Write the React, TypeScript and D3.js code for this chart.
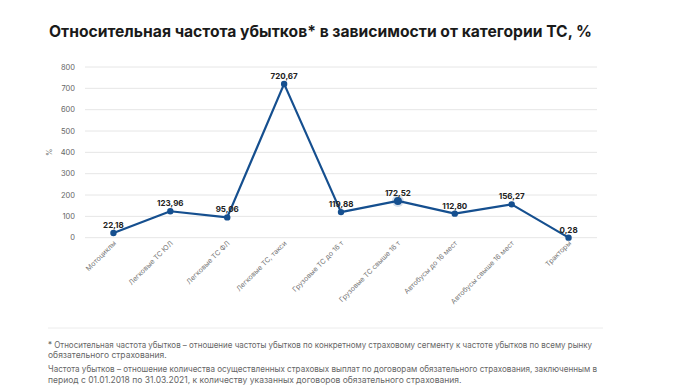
import React from "react";
import * as d3 from "d3";

const categories = [
  "Мотоциклы",
  "Легковые ТС ЮЛ",
  "Легковые ТС ФЛ",
  "Легковые ТС, такси",
  "Грузовые ТС до 16 т",
  "Грузовые ТС свыше 16 т",
  "Автобусы до 16 мест",
  "Автобусы свыше 16 мест",
  "Тракторы",
];
const values = [22.18, 123.96, 95.06, 720.67, 119.88, 172.52, 112.8, 156.27, 0.28];
const valueLabels = ["22,18", "123,96", "95,06", "720,67", "119,88", "172,52", "112,80", "156,27", "0,28"];
const yTicks = [0, 100, 200, 300, 400, 500, 600, 700, 800];
const highlightIndex = 5;

const title = "Относительная частота убытков* в зависимости от категории ТС, %";
const footnotes = [
  "* Относительная частота убытков – отношение частоты убытков по конкретному страховому сегменту к частоте убытков по всему рынку",
  "обязательного страхования.",
  "Частота убытков – отношение количества осуществленных страховых выплат по договорам обязательного страхования, заключенным в",
  "период с 01.01.2018 по 31.03.2021, к количеству указанных договоров обязательного страхования.",
];

export default function App() {
  const W = 700, H = 390;
  const left = 85, right = 597, top = 67, bottom = 237.7;
  const x = d3.scaleBand<string>().domain(categories).range([left, right]).padding(0);
  const y = d3.scaleLinear().domain([0, 800]).range([bottom, top]);
  const cx = (c: string) => (x(c) as number) + x.bandwidth() / 2;
  const color = "#154f8f";
  const line = d3
    .line<number>()
    .x((_, i) => cx(categories[i]))
    .y((v) => y(v));
  const font = "Inter, 'Noto Sans', sans-serif";
  const footY = [347.5, 358, 372, 382.5];
  const footLen = [544, 0, 549, 0];

  return (
    <svg width={W} height={H} style={{ position: "absolute", left: 0, top: 0, fontFamily: font }}>
      <rect width={W} height={H} fill="#fff" />
      <text x={49} y={37} fontSize={16} fontWeight={700} fill="#1a1a1a" textLength={543} lengthAdjust="spacingAndGlyphs">
        {title}
      </text>
      {yTicks.map((t) => (
        <g key={t}>
          <line x1={left} x2={right} y1={y(t)} y2={y(t)} stroke="#e6e6e6" strokeWidth={1} />
          <text x={75} y={y(t) + 2.6} fontSize={7.5} fill="#666" textAnchor="end">
            {t}
          </text>
        </g>
      ))}
      <text transform={`translate(52,${(top + bottom) / 2}) rotate(-90)`} fontSize={7.5} fill="#666" textAnchor="middle">
        %
      </text>
      {categories.map((c) => (
        <text
          key={c}
          transform={`translate(${cx(c) + 3},${bottom + 6}) rotate(-45)`}
          fontSize={7}
          fill="#777"
          textAnchor="end"
        >
          {c}
        </text>
      ))}
      <path d={line(values) as string} fill="none" stroke={color} strokeWidth={2.2} strokeLinejoin="round" />
      {values.map((v, i) => (
        <g key={i}>
          {i === highlightIndex && <circle cx={cx(categories[i])} cy={y(v)} r={6} fill={color} opacity={0.18} />}
          <circle cx={cx(categories[i])} cy={y(v)} r={i === highlightIndex ? 4 : 3.2} fill={color} />
          <text x={cx(categories[i])} y={y(v) - 5} fontSize={8} fontWeight={700} fill="#222" textAnchor="middle">
            {valueLabels[i]}
          </text>
        </g>
      ))}
      <line x1={48} x2={603} y1={328} y2={328} stroke="#ececec" strokeWidth={1} />
      {footnotes.map((f, i) => (
        <text
          key={i}
          x={48}
          y={footY[i]}
          fontSize={8.5}
          fill="#666"
          {...(footLen[i] ? { textLength: footLen[i], lengthAdjust: "spacingAndGlyphs" } : {})}
        >
          {f}
        </text>
      ))}
    </svg>
  );
}
